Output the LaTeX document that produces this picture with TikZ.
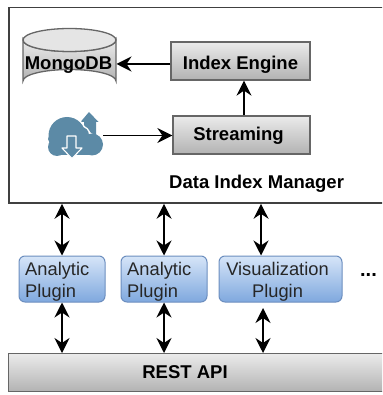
\documentclass[tikz,border=0pt]{standalone}
\usepackage{fontspec}
\setmainfont{Liberation Sans}
\usetikzlibrary{arrows.meta,shapes.geometric}
\definecolor{edgegray}{HTML}{666666}
\definecolor{cloudblue}{HTML}{5C8AA6}
\definecolor{plugtop}{HTML}{D6E5F8}
\definecolor{plugbot}{HTML}{7FA8DE}
\definecolor{plugedge}{HTML}{6C8EBF}
\tikzset{
  x=1pt,y=-1pt,
  graybox/.style={draw=edgegray,line width=1.3pt,top color=white!92!black,bottom color=black!30,inner sep=0pt},
  boxlabel/.style={inner sep=0pt,font=\bfseries\fontsize{18.5}{20}\selectfont},
  plugin/.style={draw=plugedge,line width=1pt,rounded corners=6pt,top color=plugtop,bottom color=plugbot,inner sep=0pt},
  plugtext/.style={font=\fontsize{18.3}{22}\selectfont,text=black!85,inner sep=0pt},
  link/.style={line width=1.3pt,-{Stealth[length=15pt,width=15pt,inset=5pt]}},
  biglink/.style={line width=1.3pt,{Stealth[length=15pt,width=15pt,inset=5pt]}-{Stealth[length=15pt,width=15pt,inset=5pt]},shorten >=0pt,shorten <=0pt},
}
\begin{document}
\begin{tikzpicture}
\useasboundingbox (0,0) rectangle (382,395);
\clip (0,0) rectangle (382,395);
% main frame
\node[draw=black!75,line width=1.5pt,minimum width=380pt,minimum height=195.5pt,anchor=north west,inner sep=0pt] (manager) at (8,6.8) {};
\node[anchor=west,boxlabel] (managerlabel) at (169,184) {Data Index Manager};
% cylinder
\path[draw=edgegray,line width=1.3pt,top color=white!92!black,bottom color=black!30]
  (23,40) arc[start angle=180,end angle=0,x radius=46.5,y radius=11.5]
  -- (116,81) arc[start angle=0,end angle=-180,x radius=46.5,y radius=11.5] -- cycle;
\path[draw=edgegray,line width=1.3pt,fill=white!90!black] (69.5,40) ellipse[x radius=46.5,y radius=11.5];
\node[boxlabel,minimum width=93pt,minimum height=34pt] (mongo) at (68.5,65) {MongoDB};
% boxes
\node[graybox,minimum width=139pt,minimum height=38pt] (index) at (240.5,61) {};
\node[boxlabel] (indextext) at (240.5,64.5) {Index Engine};
\node[graybox,minimum width=137pt,minimum height=38pt] (stream) at (241.5,135) {};
\node[boxlabel] (streamtext) at (238.5,136) {Streaming};
% cloud
\fill[cloudblue] (89,112) -- (98.5,122) -- (96,122) -- (96,136) -- (84,128) -- (84,122) -- (80.5,122) -- cycle;
\fill[white] (67,135.5) circle[radius=20];
\fill[white] (81,135) circle[radius=9.5];
\fill[cloudblue] (67,135.5) circle[radius=18.5];
\fill[cloudblue] (92,144.5) circle[radius=11];
\fill[cloudblue] (81,135) circle[radius=8];
\fill[cloudblue] (57,147) circle[radius=9];
\fill[cloudblue] (53,139) circle[radius=5];
\fill[cloudblue] (57,145) rectangle (91,155.5);
\coordinate (cloudout) at (103,135.5);
\draw[white,line width=1.1pt,fill=cloudblue,line join=round] (67,136) -- (67,148) -- (62,148) -- (72,158.5) -- (82,148) -- (76,148) -- (76,136) -- cycle;
% arrows inside
\draw[link] (index.west |- 0,64) -- (116.5,64);
\draw[link] (cloudout) -- (stream.west |- cloudout);
\draw[link] (stream.north -| 244,0) -- (index.south -| 244,0);
% plugins
\node[plugin,minimum width=86pt,minimum height=46pt] (a1) at (62,279) {};
\node[plugin,minimum width=86pt,minimum height=46pt] (a2) at (164,279) {};
\node[plugin,minimum width=123pt,minimum height=46pt] (vis) at (280.5,279) {};
\node[plugtext,align=left,anchor=west] (a1text) at (25,282) {Analytic\\Plugin};
\node[plugtext,align=left,anchor=west] (a2text) at (127,282) {Analytic\\Plugin};
\node[plugtext,align=center] (vistext) at (277.5,282) {Visualization\\Plugin};
\node[inner sep=0pt,font=\bfseries\fontsize{20}{20}\selectfont] (dots) at (368.5,275) {...};
% REST
\node[graybox,minimum width=380pt,minimum height=38pt,anchor=north west] (rest) at (8,353) {};
\node[boxlabel] (resttext) at (185,372.5) {REST API};
% vertical links
\draw[biglink] (manager.south -| a1) -- (a1.north);
\draw[biglink] (manager.south -| a2) -- (a2.north);
\draw[biglink] (manager.south -| 261,0) -- (vis.north -| 261,0);
\draw[biglink] (a1.south) -- (rest.north -| a1);
\draw[biglink] (a2.south) -- (rest.north -| a2);
\draw[biglink] (263,308) -- (rest.north -| 263,0);
\end{tikzpicture}
\end{document}
